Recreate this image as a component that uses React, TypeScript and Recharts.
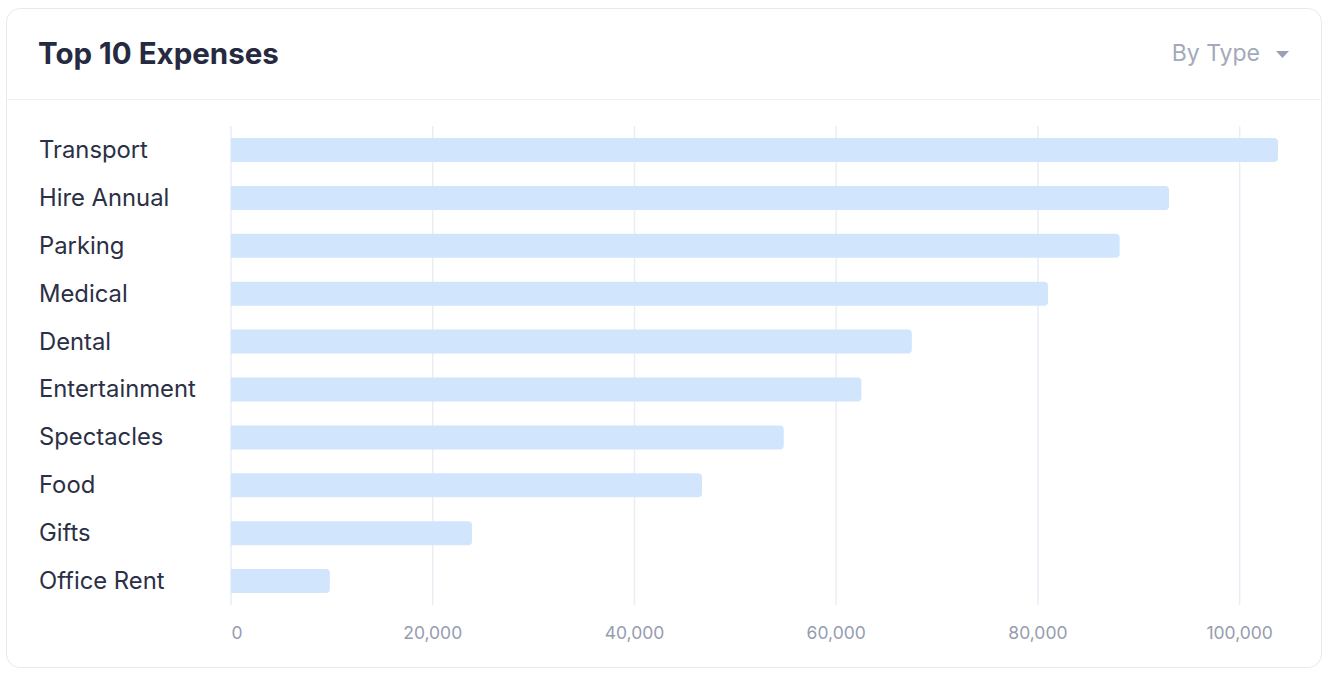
import React from 'react';
import { BarChart, Bar, XAxis, YAxis, CartesianGrid } from 'recharts';

// --- data ---

const categories = [
  'Transport',
  'Hire Annual',
  'Parking',
  'Medical',
  'Dental',
  'Entertainment',
  'Spectacles',
  'Food',
  'Gifts',
  'Office Rent',
];

const amounts = [103800, 93000, 88100, 81000, 67500, 62500, 54800, 46700, 23900, 9800];

const xTicks = [0, 20000, 40000, 60000, 80000, 100000];

const data = categories.map((name, i) => ({ name, amount: amounts[i] }));

const FONT = 'Inter, "Noto Sans", sans-serif';

// left-aligned category labels, like the original card
const CategoryTick = (props: any) => {
  const { y, payload } = props;
  return (
    <text
      x={32}
      y={y}
      dy={8}
      textAnchor="start"
      fill="#2b3046"
      fontSize={23.8}
      fontFamily={FONT}
    >
      {payload.value}
    </text>
  );
};

const AmountTick = (props: any) => {
  const { x, y, payload } = props;
  return (
    <text
      x={payload.value === 0 ? x + 6 : x}
      y={y}
      dy={12}
      textAnchor="middle"
      fill="#959cb0"
      fontSize={17.5}
      fontFamily={FONT}
    >
      {payload.value.toLocaleString('en-US')}
    </text>
  );
};

export default function App() {
  return (
    <div
      style={{
        position: 'absolute',
        left: 6,
        top: 8,
        width: 1316,
        height: 660,
        border: '1px solid #e6eaf1',
        borderRadius: 14,
        boxSizing: 'border-box',
        background: '#fff',
        fontFamily: FONT,
      }}
    >
      <div
        style={{
          height: 91,
          boxSizing: 'border-box',
          borderBottom: '1.5px solid #edf0f5',
          display: 'flex',
          alignItems: 'center',
          justifyContent: 'space-between',
          padding: '0 32px 2px 31px',
        }}
      >
        <span style={{ fontSize: 29.5, fontWeight: 700, color: '#262a41' }}>Top 10 Expenses</span>
        <span style={{ display: 'flex', alignItems: 'center', color: '#a3a9bb', fontSize: 23 }}>
          By Type
          <svg width={13} height={7} style={{ marginLeft: 16, marginTop: 2 }}>
            <polygon points="0,0 13,0 6.5,7" fill="#9aa0b3" />
          </svg>
        </span>
      </div>
      <BarChart
        width={1314}
        height={567}
        data={data}
        layout="vertical"
        margin={{ top: 26, right: 41, left: 0, bottom: 32 }}
      >
        <CartesianGrid horizontal={false} stroke="#e9edf5" strokeWidth={1.5} syncWithTicks />
        <XAxis
          type="number"
          domain={[0, 104000]}
          ticks={xTicks}
          allowDataOverflow
          axisLine={false}
          tickLine={false}
          tickMargin={16}
          height={30}
          tick={<AmountTick />}
        />
        <YAxis
          type="category"
          dataKey="name"
          width={224}
          axisLine={false}
          tickLine={false}
          interval={0}
          tick={<CategoryTick />}
        />
        <Bar
          dataKey="amount"
          fill="#d1e6fc"
          barSize={24}
          radius={[0, 4, 4, 0]}
          isAnimationActive={false}
        />
      </BarChart>
    </div>
  );
}
